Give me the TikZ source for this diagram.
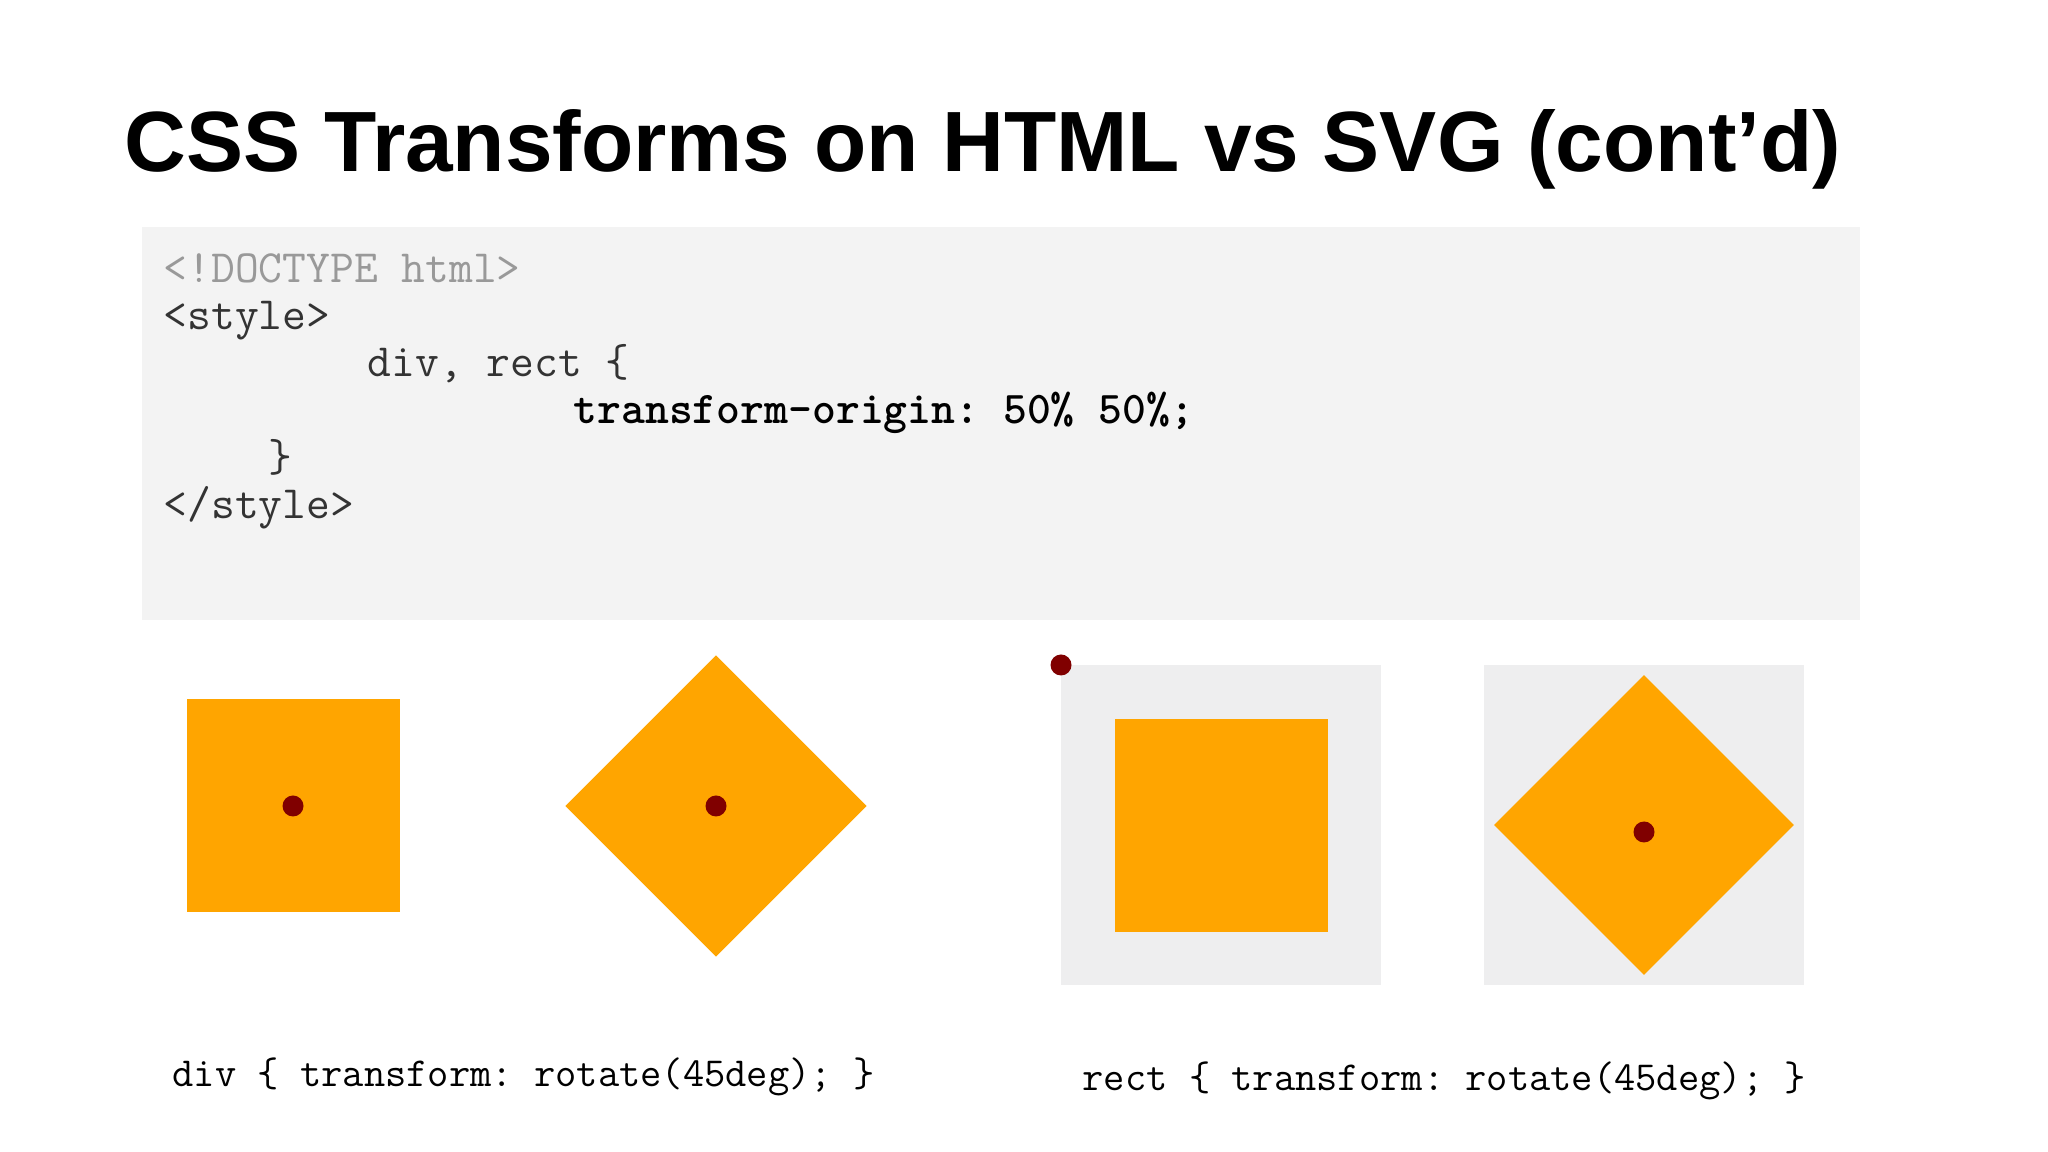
\documentclass[tikz,border=0pt]{standalone}
\usepackage{fontspec}
\setmainfont{Liberation Sans}

\definecolor{codebg}{HTML}{F3F3F3}
\definecolor{svgbg}{HTML}{EEEEEF}
\definecolor{boxorange}{HTML}{FFA500}
\definecolor{originred}{HTML}{800000}
\definecolor{doctypegray}{HTML}{999999}
\definecolor{codegray}{HTML}{333333}

\begin{document}
\frenchspacing
\begin{tikzpicture}[yscale=-1, x=0.1mm, y=0.1mm,
    codeline/.style={anchor=base west, inner sep=0, font=\fontsize{13.15pt}{15pt}\selectfont\ttfamily},
    captionline/.style={anchor=base west, inner sep=0, font=\fontsize{11.75pt}{13pt}\selectfont\ttfamily},
    originpt/.style={fill=originred}]
    \useasboundingbox [fill=white] (0,0) rectangle (2048,1152) ;

    \node [anchor=base west, inner sep=0, font=\fontsize{24.35pt}{29pt}\selectfont\bfseries] (title) at (124,172) {CSS Transforms on HTML vs SVG (cont’d)} ;

    % code listing
    \fill [codebg] (142,227) rectangle (1860,620) ;
    \node [codeline, text=doctypegray] (doctype) at (163,283) {<!DOCTYPE html>} ;
    \node [codeline, text=codegray] (styleopen) at (163,330) {<style>} ;
    \node [codeline, text=codegray] (selector) at (367,377) {div, rect \{} ;
    \node [codeline, font=\fontsize{12.93pt}{15pt}\selectfont\ttfamily\bfseries] (originrule) at (573,424) {transform-origin: 50\% 50\%;} ;
    \node [codeline, text=codegray] (closebrace) at (268,472) {\}} ;
    \node [codeline, text=codegray] (styleclose) at (163,519) {</style>} ;

    % html div
    \fill [boxorange] (187,699) rectangle (400,912) ;
    \fill [originpt] (293,806) circle [radius=10.5] ;
    \fill [boxorange, rotate around={45:(716,806)}] (609.5,699.5) rectangle (822.5,912.5) ;
    \fill [originpt] (716,806) circle [radius=10.5] ;

    % svg rect
    \fill [svgbg] (1061,665) rectangle (1381,985) ;
    \fill [boxorange] (1115,719) rectangle (1328,932) ;
    \fill [originpt] (1061,665) circle [radius=10.5] ;
    \fill [svgbg] (1484,665) rectangle (1804,985) ;
    \fill [boxorange, rotate around={45:(1644,825)}] (1538,719) rectangle (1750,931) ;
    \fill [originpt] (1644,832) circle [radius=10.5] ;

    \node [captionline] (divcaption) at (172,1086) {div \{ transform: rotate(45deg); \}} ;
    \node [captionline] (rectcaption) at (1082,1090) {rect \{ transform: rotate(45deg); \}} ;
\end{tikzpicture}
\end{document}
